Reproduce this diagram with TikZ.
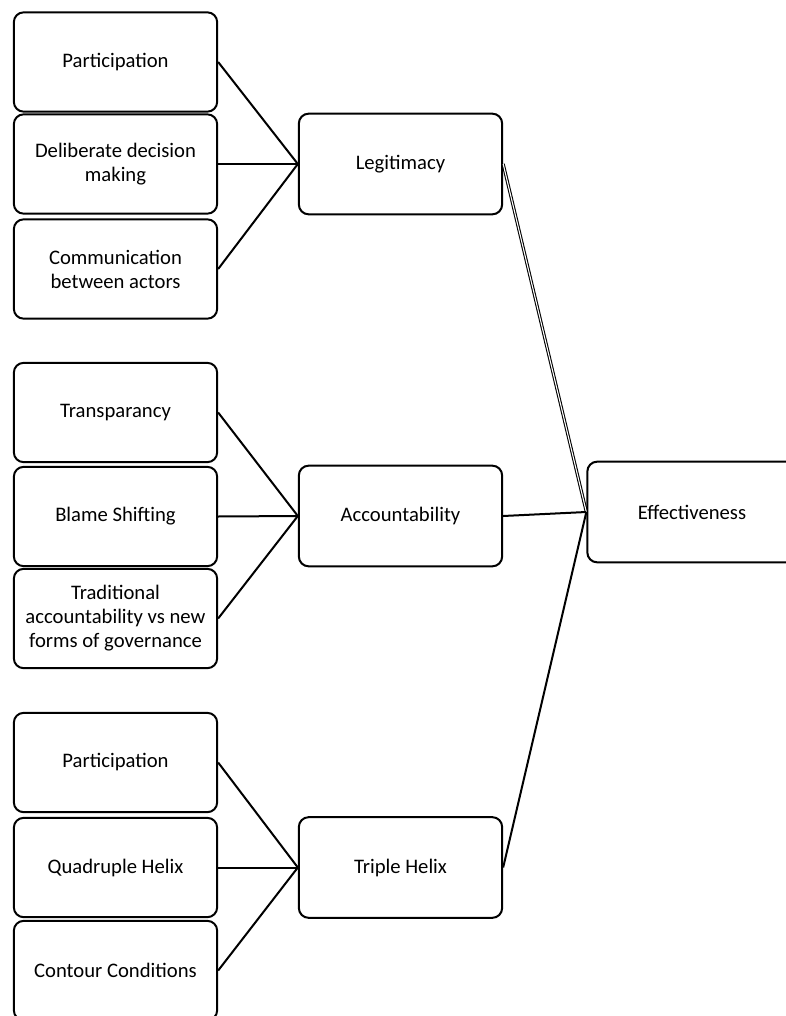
\documentclass[tikz,border=0pt]{standalone}
\usepackage{fontspec}
\setmainfont{Carlito}
\usepackage{tikz}
\tikzset{
  FactorBox/.style={
    rectangle, rounded corners=2.6mm,
    minimum height=74.5pt,
    minimum width=152.5pt,
    line width=1.5pt, draw=black, fill=white,
    align=center, font=\fontsize{15.5}{18}\selectfont,
  },
  MainBox/.style={FactorBox, minimum height=75.5pt},
  MyLink/.style={line width=1.5pt, draw=black},
}
\begin{document}
\begin{tikzpicture}[x=0.75pt, y=-0.75pt]
\useasboundingbox (0,0) rectangle (785,1016);
\node[FactorBox] (LegA) at (115.5,62) {Participation};
\node[FactorBox] (LegB) at (115.5,164) {Deliberate decision\\making};
\node[FactorBox] (LegC) at (115.5,269) {Communication\\between actors};
\node[MainBox] (LEG) at (400.5,164) {Legitimacy};
\node[FactorBox] (AccA) at (115.5,412.5) {Transparancy};
\node[FactorBox] (AccB) at (115.5,516.5) {Blame Shifting};
\node[FactorBox] (AccC) at (115.5,618.5) {Traditional\\accountability vs new\\forms of governance};
\node[MainBox] (ACC) at (400.5,516) {Accountability};
\node[FactorBox] (TriA) at (115.5,762.5) {Participation};
\node[FactorBox] (TriB) at (115.5,867.5) {Quadruple Helix};
\node[FactorBox] (TriC) at (115.5,970.5) {Contour Conditions};
\node[MainBox] (TRI) at (400.5,867.5) {Triple Helix};
\node[MainBox, minimum width=157pt] (EFF) at (692,512) {Effectiveness};
\draw[MyLink] (LegA.east) to (LEG.west);
\draw[MyLink] (LegB.east) to (LEG.west);
\draw[MyLink] (LegC.east) to (LEG.west);
\draw[MyLink] (AccA.east) to (ACC.west);
\draw[MyLink] (AccB.east) to (ACC.west);
\draw[MyLink] (AccC.east) to (ACC.west);
\draw[MyLink] (TriA.east) to (TRI.west);
\draw[MyLink] (TriB.east) to (TRI.west);
\draw[MyLink] (TriC.east) to (TRI.west);
\draw[double, double distance=0.8pt, line width=0.8pt] (LEG.east) to (EFF.west);
\draw[MyLink] (ACC.east) to (EFF.west);
\draw[MyLink] (TRI.east) to (EFF.west);
\end{tikzpicture}
\end{document}
